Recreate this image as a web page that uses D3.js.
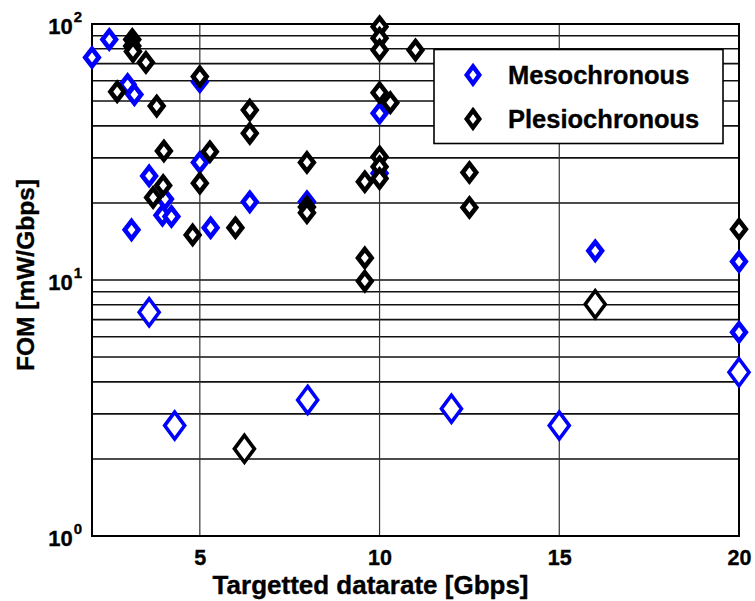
<!DOCTYPE html>
<html>
<head>
<meta charset="utf-8">
<script src="https://cdn.jsdelivr.net/npm/d3@7"></script>
<style>
  body { margin: 0; background: #fff; }
  text { font-family: "Liberation Sans", Arial, sans-serif; font-weight: bold; stroke: #000; stroke-width: 0.35px; }
</style>
</head>
<body>
<svg id="chart"></svg>
<script>
"use strict";

// Mesochronous links: [datarate Gbps, FOM mW/Gbps]
const mesoSmall = [
  [2.0, 74], [2.48, 87], [2.99, 58], [3.18, 53], [5.0, 59.5], [10.0, 44.8],
  [3.59, 25.5], [5.0, 28.8], [4.03, 20.7], [3.96, 17.9], [4.21, 17.7],
  [3.1, 15.7], [5.3, 16.0], [6.39, 20.2], [7.98, 20.2], [10.0, 26.1],
  [16.0, 13.0], [20.0, 11.8], [20.0, 6.25]
];
const mesoLarge = [
  [3.59, 7.48], [4.3, 2.7], [8.0, 3.4], [12.0, 3.14], [15.0, 2.7], [20.0, 4.36]
];

// Plesiochronous links
const plesioSmall = [
  [3.12, 87], [3.12, 82], [3.14, 78], [3.5, 70.8], [2.7, 54.4], [3.8, 47.8],
  [5.0, 62.3], [6.39, 46.1], [6.39, 37.4], [4.0, 31.9], [5.28, 31.7],
  [3.98, 23.4], [3.7, 21.0], [5.0, 23.9], [7.98, 28.8], [7.98, 19.3], [7.98, 18.3],
  [4.8, 15.0], [5.99, 16.0], [9.59, 24.2], [9.59, 12.2], [9.59, 9.9],
  [10.0, 97.6], [10.0, 88], [10.0, 79.1], [10.0, 53.9], [10.3, 49.3], [11.0, 79.1],
  [10.0, 30.3], [10.0, 27.7], [10.0, 24.9], [12.5, 26.3], [12.5, 19.2], [20.0, 15.8]
];
const plesioLarge = [
  [16.0, 8.04], [6.24, 2.19]
];

const xTicks = [5, 10, 15, 20];
const yDecades = [1, 10, 100];
const legendLabels = ["Mesochronous", "Plesiochronous"];

const width = 755, height = 601;
const margin = {top: 24, right: 16, bottom: 65, left: 92};

const svg = d3.select("#chart").attr("width", width).attr("height", height);

const x = d3.scaleLinear().domain([2, 20]).range([margin.left, width - margin.right]);
const y = d3.scaleLog().domain([1, 100]).range([height - margin.bottom, margin.top]);

/* grid */
let minor = [];
for (let d of [1, 10]) {
  for (let k = 2; k <= 9; k++) minor.push(d * k);
}
minor.push(10);

svg.append("g")
  .selectAll("line")
  .data(minor)
  .enter()
  .append("line")
  .attr("x1", margin.left)
  .attr("x2", width - margin.right)
  .attr("y1", d => y(d))
  .attr("y2", d => y(d))
  .attr("stroke", "#111")
  .attr("stroke-width", 1.6);

svg.append("g")
  .selectAll("line")
  .data(xTicks.filter(t => t < 20))
  .enter()
  .append("line")
  .attr("x1", d => x(d))
  .attr("x2", d => x(d))
  .attr("y1", margin.top)
  .attr("y2", height - margin.bottom)
  .attr("stroke", "#333")
  .attr("stroke-width", 1.2);

/* axes box */
svg.append("rect")
  .attr("x", margin.left)
  .attr("y", margin.top)
  .attr("width", width - margin.left - margin.right)
  .attr("height", height - margin.top - margin.bottom)
  .attr("fill", "none")
  .attr("stroke", "#000")
  .attr("stroke-width", 2);

/* x axis */
const xAxis = svg.append("g")
  .attr("transform", `translate(0, ${height - margin.bottom})`)
  .call(d3.axisBottom(x).tickValues(xTicks).tickSize(0).tickPadding(0));
xAxis.select(".domain").remove();
xAxis.selectAll("text")
  .attr("dy", null)
  .attr("y", 28.5)
  .attr("font-size", 21.5)
  .attr("font-family", "Liberation Sans, Arial, sans-serif")
  .attr("font-weight", "bold")
  .attr("fill", "#000");

/* y axis, MATLAB style 10^n labels */
const yLab = svg.append("g");
yDecades.forEach(v => {
  let t = yLab.append("text")
    .attr("x", margin.left - 10)
    .attr("y", y(v) + 9.5)
    .attr("text-anchor", "end")
    .attr("font-weight", "bold")
    .attr("font-size", 22);
  t.append("tspan").text("10");
  t.append("tspan")
    .attr("dy", -12)
    .attr("dx", 1)
    .attr("font-size", 15)
    .text(Math.round(Math.log10(v)));
});

/* axis titles */
svg.append("text")
  .attr("x", x(9.75))
  .attr("y", 593.5)
  .attr("text-anchor", "middle")
  .attr("font-weight", "bold")
  .attr("font-size", 26)
  .text("Targetted datarate [Gbps]");

svg.append("text")
  .attr("transform", `translate(34, 275) rotate(-90)`)
  .attr("text-anchor", "middle")
  .attr("font-weight", "bold")
  .attr("font-size", 24.5)
  .text("FOM [mW/Gbps]");

/* markers */
function diamond(w, h) {
  return `M0,${-h}L${w},0L0,${h}L${-w},0Z`;
}

function drawSet(data, colour, big) {
  svg.append("g")
    .selectAll("path")
    .data(data)
    .enter()
    .append("path")
    .attr("transform", d => `translate(${x(d[0])}, ${y(d[1])})`)
    .attr("d", big ? diamond(10, 13.5) : diamond(6.8, 8.8))
    .attr("fill", "#fff")
    .attr("stroke", colour)
    .attr("stroke-width", big ? 3.6 : 4.6);
}

drawSet(mesoSmall, "#0000ff", false);
drawSet(mesoLarge, "#0000ff", true);
drawSet(plesioSmall, "#000", false);
drawSet(plesioLarge, "#000", true);

/* legend */
const lg = svg.append("g");
lg.append("rect")
  .attr("x", 434)
  .attr("y", 49.5)
  .attr("width", 289)
  .attr("height", 94)
  .attr("fill", "#fff")
  .attr("stroke", "#000")
  .attr("stroke-width", 1.6);

legendLabels.forEach((lab, i) => {
  let cy = 75 + i * 44;
  lg.append("path")
    .attr("transform", `translate(473, ${cy})`)
    .attr("d", diamond(6.3, 8.6))
    .attr("fill", "#fff")
    .attr("stroke", i === 0 ? "#0000ff" : "#000")
    .attr("stroke-width", 4.4);
  lg.append("text")
    .attr("x", 508)
    .attr("y", cy + 9.3)
    .attr("font-weight", "bold")
    .attr("font-size", 25.5)
    .text(lab);
});
</script>
</body>
</html>
